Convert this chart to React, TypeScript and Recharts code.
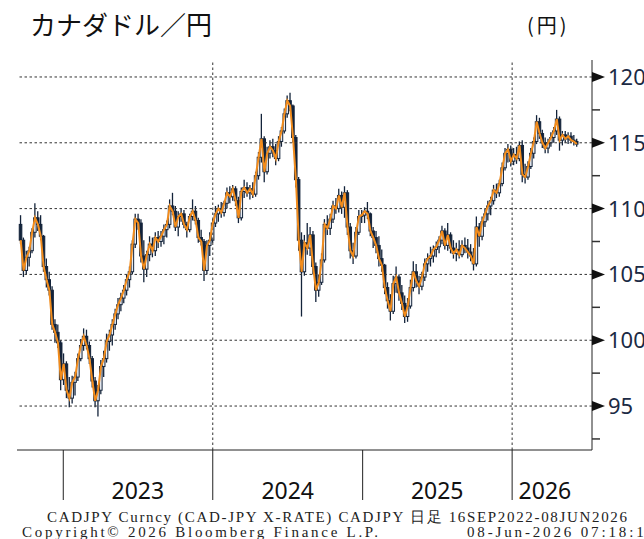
import { ComposedChart, Bar, Line, XAxis, YAxis, ReferenceLine } from 'recharts'

// weekly candles: [open, high, low, close]
type Ohlc = [number, number, number, number]

const w2022: Ohlc[] = [
  [108.8, 109.5, 107.3, 107.6], [107.6, 107.8, 104.8, 105.3], [105.3, 106.8, 105.0, 106.3],
  [106.3, 107.1, 105.6, 106.8], [106.8, 108.5, 106.6, 108.2], [108.2, 110.4, 107.8, 109.3],
  [109.3, 109.8, 108.3, 108.8], [108.8, 109.5, 107.6, 107.9], [107.9, 108.0, 105.2, 105.6],
  [105.6, 106.2, 104.0, 104.6], [104.6, 105.2, 103.4, 103.8], [103.8, 104.1, 100.8, 101.2],
  [101.2, 101.6, 99.8, 100.6], [100.6, 101.2, 99.4, 99.8], [99.8, 100.0, 96.2, 97.0],
]

const w2023: Ohlc[] = [
  [97.0, 99.0, 96.6, 98.2], [98.2, 98.4, 95.6, 96.2], [96.2, 97.2, 94.9, 95.6],
  [95.6, 97.3, 95.2, 96.8], [96.8, 97.6, 95.8, 97.2], [97.2, 99.0, 96.9, 98.6],
  [98.6, 100.1, 98.4, 99.6], [99.6, 100.9, 99.2, 100.3], [100.3, 100.8, 99.3, 99.6],
  [99.6, 99.9, 98.2, 98.6], [98.6, 98.8, 96.4, 96.9], [96.9, 97.2, 94.9, 95.4],
  [95.4, 96.6, 94.2, 96.2], [96.2, 98.5, 95.9, 98.0], [98.0, 99.2, 97.2, 98.6],
  [98.6, 100.5, 98.3, 99.9], [99.9, 100.8, 99.2, 100.4], [100.4, 101.6, 99.6, 101.2],
  [101.2, 102.4, 100.8, 102.0], [102.0, 103.2, 101.6, 102.7], [102.7, 103.6, 102.2, 103.2],
  [103.2, 104.2, 102.8, 103.8], [103.8, 105.0, 103.4, 104.6], [104.6, 105.6, 104.0, 105.2],
  [105.2, 107.6, 105.0, 107.3], [107.3, 109.6, 107.0, 109.2], [109.2, 109.6, 108.4, 108.9],
  [108.9, 109.2, 105.9, 106.4], [106.4, 107.6, 104.4, 105.4], [105.4, 106.8, 104.8, 106.5],
  [106.5, 107.9, 106.0, 107.3], [107.3, 107.8, 106.3, 106.8], [106.8, 108.2, 106.4, 107.8],
  [107.8, 108.3, 107.0, 107.5], [107.5, 108.3, 107.1, 107.9], [107.9, 108.8, 107.3, 108.4],
  [108.4, 109.1, 107.8, 108.8], [108.8, 110.7, 108.5, 110.2], [110.2, 111.2, 109.5, 109.8],
  [109.8, 110.2, 108.3, 108.6], [108.6, 109.8, 107.9, 109.4], [109.4, 110.0, 109.0, 109.6],
  [109.6, 109.9, 108.5, 108.8], [108.8, 109.0, 107.8, 108.4], [108.4, 109.6, 108.2, 109.4],
  [109.4, 110.7, 109.1, 109.8], [109.8, 110.2, 108.8, 109.1], [109.1, 109.3, 107.4, 107.8],
  [107.8, 108.4, 107.2, 107.5], [107.5, 107.7, 104.5, 105.3], [105.3, 107.6, 105.0, 107.2],
  [107.2, 108.2, 106.4, 107.6],
]

const w2024: Ohlc[] = [
  [107.6, 109.2, 107.4, 108.9], [108.9, 110.2, 108.6, 109.6], [109.6, 110.3, 109.0, 110.0],
  [110.0, 110.5, 109.3, 109.7], [109.7, 110.6, 109.4, 110.4], [110.4, 111.6, 110.0, 111.2],
  [111.2, 111.7, 110.4, 110.9], [110.9, 111.8, 110.6, 111.5], [111.5, 111.7, 110.2, 110.6],
  [110.6, 110.9, 108.9, 109.3], [109.3, 111.6, 109.1, 111.3], [111.3, 112.2, 110.8, 111.6],
  [111.6, 112.0, 110.9, 111.2], [111.2, 111.8, 110.7, 111.5], [111.5, 112.0, 110.8, 111.1],
  [111.1, 112.8, 110.9, 112.5], [112.5, 114.3, 112.2, 113.9], [113.9, 117.2, 113.5, 115.3],
  [115.3, 115.5, 112.0, 112.8], [112.8, 114.7, 112.6, 114.2], [114.2, 115.2, 113.8, 114.7],
  [114.7, 115.3, 113.9, 114.4], [114.4, 114.9, 113.3, 113.8], [113.8, 115.5, 113.6, 115.1],
  [115.1, 116.2, 114.7, 115.9], [115.9, 117.6, 115.7, 117.2], [117.2, 118.6, 116.9, 118.2],
  [118.2, 118.8, 117.4, 117.8], [117.8, 117.9, 115.0, 115.4], [115.4, 115.6, 111.6, 112.2],
  [112.2, 112.4, 106.8, 107.6], [107.6, 108.2, 101.8, 105.2], [105.2, 108.0, 104.9, 107.4],
  [107.4, 108.9, 106.5, 107.0], [107.0, 108.6, 106.4, 108.0], [108.0, 108.3, 105.0, 105.6],
  [105.6, 105.9, 102.9, 103.8], [103.8, 105.0, 103.3, 104.4], [104.4, 106.6, 104.2, 106.1],
  [106.1, 109.2, 105.9, 108.8], [108.8, 109.5, 108.0, 108.5], [108.5, 109.6, 108.0, 109.2],
  [109.2, 110.6, 108.9, 110.2], [110.2, 110.8, 109.6, 110.0], [110.0, 111.5, 109.7, 111.0],
  [111.0, 111.3, 109.6, 110.1], [110.1, 111.7, 109.3, 111.2], [111.2, 111.4, 108.0, 108.6],
  [108.6, 108.9, 106.2, 106.8], [106.8, 107.4, 105.8, 106.4], [106.4, 108.6, 106.2, 108.2],
  [108.2, 109.9, 108.0, 109.4],
]

const w2025: Ohlc[] = [
  [109.4, 109.9, 108.9, 109.5], [109.5, 110.1, 108.9, 109.8], [109.8, 110.5, 109.2, 109.6],
  [109.6, 109.7, 107.9, 108.3], [108.3, 108.6, 107.0, 107.8], [107.8, 108.3, 106.6, 107.2],
  [107.2, 107.9, 105.6, 106.2], [106.2, 106.9, 105.2, 105.7], [105.7, 105.8, 103.5, 104.0],
  [104.0, 104.4, 102.4, 103.0], [103.0, 103.5, 101.5, 102.2], [102.2, 104.9, 102.0, 104.3],
  [104.3, 105.6, 103.6, 104.8], [104.8, 105.0, 103.0, 103.6], [103.6, 104.2, 102.3, 102.8],
  [102.8, 103.4, 101.3, 101.8], [101.8, 103.2, 101.4, 102.6], [102.6, 104.6, 102.4, 104.0],
  [104.0, 106.0, 103.7, 105.2], [105.2, 105.8, 104.0, 104.5], [104.5, 104.9, 103.5, 104.1],
  [104.1, 105.2, 103.8, 104.8], [104.8, 106.2, 104.5, 105.8], [105.8, 106.6, 105.2, 106.2],
  [106.2, 107.1, 105.6, 106.4], [106.4, 107.2, 105.9, 106.9], [106.9, 107.5, 106.3, 107.1],
  [107.1, 107.9, 106.6, 107.6], [107.6, 108.7, 107.3, 108.3], [108.3, 108.5, 106.9, 107.2],
  [107.2, 108.9, 106.8, 108.0], [108.0, 108.2, 106.6, 107.0], [107.0, 107.6, 106.2, 106.6],
  [106.6, 107.4, 106.0, 106.9], [106.9, 107.6, 106.2, 106.5], [106.5, 107.6, 106.3, 107.2],
  [107.2, 107.8, 106.6, 107.0], [107.0, 107.7, 106.2, 106.7], [106.7, 107.3, 106.0, 106.4],
  [106.4, 107.0, 105.3, 105.8], [105.8, 109.4, 105.6, 108.6], [108.6, 108.9, 107.1, 107.9],
  [107.9, 109.4, 107.6, 109.0], [109.0, 110.0, 108.6, 109.6], [109.6, 110.6, 109.1, 110.2],
  [110.2, 110.9, 109.5, 110.6], [110.6, 111.8, 110.3, 111.4], [111.4, 111.9, 110.8, 111.2],
  [111.2, 112.2, 110.9, 111.9], [111.9, 113.5, 111.7, 113.1], [113.1, 114.6, 112.9, 114.2],
  [114.2, 114.9, 113.5, 114.5],
]

const w2026: Ohlc[] = [
  [114.5, 114.8, 113.2, 113.6], [113.6, 114.6, 113.3, 114.1], [114.1, 114.7, 113.4, 113.8],
  [113.8, 115.1, 113.6, 114.8], [114.8, 115.2, 112.0, 112.6], [112.6, 113.4, 111.9, 112.4],
  [112.4, 113.6, 112.2, 113.2], [113.2, 114.6, 113.0, 114.2], [114.2, 115.4, 113.8, 115.1],
  [115.1, 117.1, 114.9, 116.6], [116.6, 116.9, 115.3, 115.7], [115.7, 116.0, 114.6, 115.0],
  [115.0, 115.4, 114.2, 114.6], [114.6, 115.3, 114.2, 115.0], [115.0, 115.8, 114.7, 115.4],
  [115.4, 116.2, 115.0, 115.9], [115.9, 117.5, 115.6, 116.8], [116.8, 117.0, 114.4, 115.2],
  [115.2, 115.9, 114.8, 115.6], [115.6, 115.9, 115.0, 115.3], [115.3, 115.8, 114.9, 115.5],
  [115.5, 115.8, 115.0, 115.2], [115.2, 115.6, 114.8, 115.1], [115.1, 115.3, 114.7, 114.9],
]

const yMajor = [95, 100, 105, 110, 115, 120]
const yMinor = [92.5, 97.5, 102.5, 107.5, 112.5, 117.5]

const yearStarts = [Date.UTC(2023, 0, 1), Date.UTC(2024, 0, 1), Date.UTC(2025, 0, 1), Date.UTC(2026, 0, 1)]
const yearGrid = [Date.UTC(2024, 0, 1), Date.UTC(2026, 0, 1)]
const yearLabels = ['2023', '2024', '2025', '2026']
const yearLabelDates = [Date.UTC(2023, 6, 2), Date.UTC(2024, 6, 2), Date.UTC(2025, 6, 2), Date.UTC(2026, 2, 22)]

const DAY = 86400000
const FIRST = Date.UTC(2022, 8, 16)
const X_MIN = Date.UTC(2022, 8, 10)
const X_MAX = Date.UTC(2026, 6, 15)

const rows = [...w2022, ...w2023, ...w2024, ...w2025, ...w2026].map(([o, h, l, c], i) => ({
  t: FIRST + (7 * i + 3) * DAY,
  o,
  h,
  l,
  c,
  range: [l, h],
}))

const NAVY = '#13233a'
const ORANGE = '#f28c1c'
const TXT = '#1b2a44'

// eslint-disable-next-line @typescript-eslint/no-explicit-any
function Candle(props: any) {
  const { x, y, width, height, payload } = props
  if (payload == null || height == null) return null
  const top = Math.min(y, y + height)
  const ht = Math.abs(height)
  const span = payload.h - payload.l || 1
  const py = (v: number) => top + ((payload.h - v) / span) * ht
  const cx = x + width / 2
  const bTop = py(Math.max(payload.o, payload.c))
  const bBot = py(Math.min(payload.o, payload.c))
  const up = payload.c >= payload.o
  return (
    <g>
      <line x1={cx} x2={cx} y1={top} y2={top + ht} stroke={NAVY} strokeWidth={1.3} />
      <rect
        x={x}
        y={bTop}
        width={width}
        height={Math.max(bBot - bTop, 1.2)}
        fill={up ? '#e8ecf2' : NAVY}
        stroke={NAVY}
        strokeWidth={1}
      />
    </g>
  )
}

// eslint-disable-next-line @typescript-eslint/no-explicit-any
function XTick({ x, y, payload }: any) {
  const v = payload.value
  const si = yearStarts.indexOf(v)
  if (si >= 0) return <line x1={x} x2={x} y1={y} y2={y + 50} stroke="#222" strokeWidth={1} />
  const li = yearLabelDates.indexOf(v)
  if (li < 0) return null
  return (
    <text x={x} y={y + 49} textAnchor="middle" fontSize={23} fill="#111" fontFamily="'Noto Sans', sans-serif">
      {yearLabels[li]}
    </text>
  )
}

// eslint-disable-next-line @typescript-eslint/no-explicit-any
function YTick({ x, y, payload }: any) {
  const v = payload.value
  if (!yMajor.includes(v)) return <line x1={x} x2={x + 8} y1={y} y2={y} stroke="#333" strokeWidth={1.5} />
  return (
    <g>
      <polygon points={`${x},${y - 5} ${x + 13},${y} ${x},${y + 5}`} fill="#111" />
      <text x={x + 16} y={y + 8} fontSize={22} fill={TXT} fontFamily="'Noto Sans', sans-serif">
        {v}
      </text>
    </g>
  )
}

export default function App() {
  return (
    <div style={{ position: 'absolute', left: 0, top: 0, width: 644, height: 539, background: '#fff' }}>
      <ComposedChart width={644} height={539} data={rows} margin={{ top: 60, right: 0, left: 17, bottom: 29 }}>
        {yMajor.map((v) => (
          <ReferenceLine key={v} y={v} stroke="#333" strokeDasharray="2.5 2.5" />
        ))}
        {yearGrid.map((t) => (
          <ReferenceLine key={t} x={t} stroke="#333" strokeDasharray="2.5 2.5" />
        ))}
        <XAxis
          dataKey="t"
          type="number"
          domain={[X_MIN, X_MAX]}
          allowDataOverflow
          ticks={[...yearStarts, ...yearLabelDates]}
          interval={0}
          tickSize={0}
          tickMargin={0}
          tickLine={false}
          axisLine={{ stroke: '#222' }}
          height={60}
          tick={(p) => <XTick {...p} />}
        />
        <YAxis
          orientation="right"
          domain={[91.66, 121.29]}
          allowDataOverflow
          ticks={[...yMinor, ...yMajor].sort((a, b) => a - b)}
          interval={0}
          tickSize={0}
          tickMargin={0}
          tickLine={false}
          axisLine={{ stroke: '#222' }}
          width={52}
          tick={(p) => <YTick {...p} />}
        />
        <Bar dataKey="range" barSize={2.9} shape={(p: any) => <Candle {...p} />} isAnimationActive={false} />
        <Line
          type="linear"
          dataKey="c"
          stroke={ORANGE}
          strokeWidth={2}
          dot={false}
          activeDot={false}
          isAnimationActive={false}
        />
      </ComposedChart>
      <svg width={644} height={539} style={{ position: 'absolute', left: 0, top: 0, pointerEvents: 'none' }}>
        <text x={30} y={35} fontSize={26} fill="#111" fontFamily="'Noto Sans CJK JP', sans-serif">
          カナダドル／円
        </text>
        <text x={527} y={33} fontSize={20} fill="#111" fontFamily="'Noto Sans CJK JP', sans-serif" letterSpacing={3}>
          (円)
        </text>
        <g fontFamily="'Liberation Serif', serif" fontSize={15} fill="#222">
          <text x={47} y={522} textLength={580} lengthAdjust="spacing">
            CADJPY Curncy (CAD-JPY X-RATE) CADJPY 日足 16SEP2022-08JUN2026
          </text>
          <text x={22} y={537} textLength={356} lengthAdjust="spacing">
            Copyright© 2026 Bloomberg Finance L.P.
          </text>
          <text x={467} y={537} textLength={187} lengthAdjust="spacing">
            08-Jun-2026 07:18:19
          </text>
        </g>
      </svg>
    </div>
  )
}
